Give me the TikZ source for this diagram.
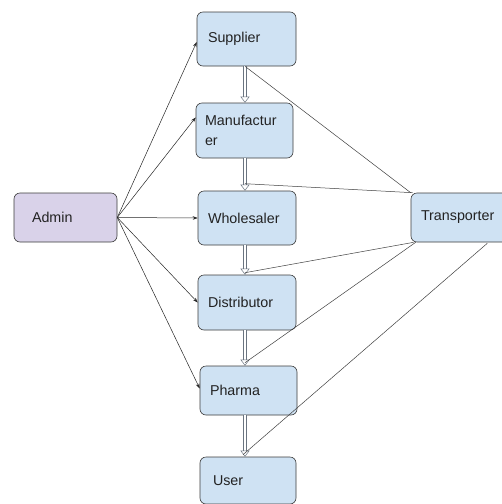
\documentclass[tikz,border=0pt]{standalone}
\usepackage{fontspec}
\setmainfont{Liberation Sans}
\usetikzlibrary{arrows.meta,calc}
\definecolor{boxblue}{HTML}{CFE2F3}
\definecolor{lav}{HTML}{D9D2E9}
\definecolor{edge}{HTML}{3C3C3C}
\definecolor{txt}{HTML}{222222}
\definecolor{shaft}{HTML}{6A7480}
\begin{document}
\begin{tikzpicture}[x=1pt,y=-1pt,
  box/.style={draw=edge, fill=boxblue, rounded corners=6pt, line width=0.6pt,
    font=\fontsize{14.3}{20}\selectfont, text=txt, align=left, inner ysep=0pt},
  adminbox/.style={box, fill=lav},
  feed/.style={draw=black!85, line width=0.5pt, -{Stealth[length=5pt,width=3.5pt]}},
  hollow/.style={draw=shaft, line width=0.5pt, double=white, double distance=2.4pt,
    -{Triangle[open,length=6pt,width=9pt]}},
  tline/.style={draw=black!75, line width=0.5pt}]
\useasboundingbox (0,0) rectangle (502,504);
\clip (0,0) rectangle (502,504);
\fill[white] (0,0) rectangle (502,504);

\node[box, minimum width=99pt, minimum height=54pt, inner xsep=11pt, text width=77pt] (sup) at (246.5,39) {Supplier};
\node[box, minimum width=97pt, minimum height=55pt, inner xsep=9pt, text width=79pt] (man) at (244.5,130.5) {Manufactur\\er};
\node[box, minimum width=98pt, minimum height=54pt, inner xsep=10pt, text width=78pt] (whl) at (247,218) {Wholesaler};
\node[box, minimum width=98pt, minimum height=55pt, inner xsep=10pt, text width=78pt] (dis) at (247,302.5) {Distributor};
\node[box, minimum width=97pt, minimum height=49pt, inner xsep=10pt, text width=77pt] (pha) at (248.5,390.5) {Pharma};
\node[box, minimum width=96pt, minimum height=47pt, inner xsep=13pt, text width=70pt] (usr) at (248,480.5) {User};
\node[adminbox, minimum width=103pt, minimum height=49pt, inner xsep=18pt, text width=67pt] (adm) at (65.5,217.5) {Admin};
\node[box, minimum width=100pt, minimum height=49pt, inner xsep=10pt, text width=80pt] (trn) at (461,217.5) {Transporter};

\coordinate (ax) at (245,0);

% admin feeds
\draw[feed] (adm.east) -- ([yshift=-3pt]sup.west);
\draw[feed] (adm.east) -- (man.165);
\draw[feed] (adm.east) -- (whl.west);
\draw[feed] (adm.east) -- (dis.west);
\draw[feed] (adm.east) -- ([yshift=2pt]pha.west);

% chain
\draw[hollow] (sup.south -| ax) -- (man.north -| ax);
\draw[hollow] (man.south -| ax) -- (whl.north -| ax);
\draw[hollow] (whl.south -| ax) -- (dis.north -| ax);
\draw[hollow] (dis.south -| ax) -- (pha.north -| ax);
\draw[hollow] (pha.south -| ax) -- (usr.north -| ax);

% transporter links
\draw[tline] (sup.south -| ax) -- (trn.north west);
\draw[tline] ([yshift=7pt]whl.north -| ax) -- ([xshift=2pt]trn.north west);
\draw[tline] ([yshift=2pt]dis.north -| ax) -- ([xshift=3pt]trn.south west);
\draw[tline] ([yshift=3pt]pha.north -| ax) -- ([xshift=5pt]trn.south west);
\draw[tline] ([xshift=-2pt,yshift=2pt]usr.north -| ax) -- ([xshift=-24pt,yshift=-1pt]trn.south east);
\end{tikzpicture}
\end{document}
